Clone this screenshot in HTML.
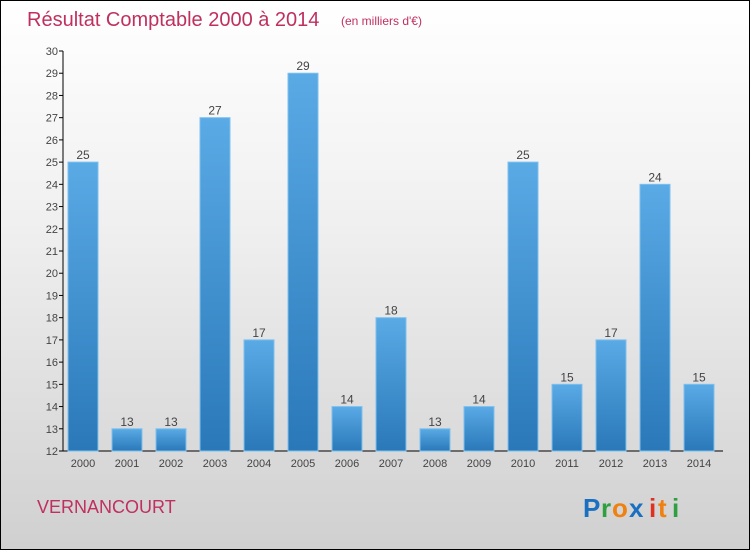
<!DOCTYPE html>
<html><head><meta charset="utf-8"><style>
body{margin:0;}
#c{width:748px;height:548px;border:1px solid #000;position:relative;background:linear-gradient(#ffffff,#f0f0f0 40%,#d0d0d0);font-family:"Liberation Sans",sans-serif;overflow:hidden}
</style></head><body>
<div id="c">
<svg width="748" height="548" id="s">
<defs><linearGradient id="g" x1="0" y1="0" x2="0" y2="1"><stop offset="0" stop-color="#5aaae6"/><stop offset="1" stop-color="#2a78b8"/></linearGradient></defs>
<text x="26" y="25" font-size="20" fill="#c0305f">Résultat Comptable 2000 à 2014</text>
<text x="340" y="24" font-size="12" fill="#c0305f">(en milliers d'€)</text>
<text x="36" y="512" font-size="18" fill="#c0305f">VERNANCOURT</text>
<g font-size="26" font-weight="bold">
<text x="582" y="516" fill="#1a70c0">P</text><text x="600" y="516" fill="#2ea040">r</text><text x="611" y="516" fill="#f08010">o</text><text x="628" y="516" fill="#1a70c0">x</text><text x="648" y="516" fill="#e03020">i</text><text x="657" y="516" fill="#f08010">t</text><text x="671" y="516" fill="#2ea040">i</text>
</g>
<g id="plot"></g>
</svg>
</div>
<script>
const categories=["2000","2001","2002","2003","2004","2005","2006","2007","2008","2009","2010","2011","2012","2013","2014"];
const values=[25,13,13,27,17,29,14,18,13,14,25,15,17,24,15];
const yTicks=[12,13,14,15,16,17,18,19,20,21,22,23,24,25,26,27,28,29,30];
const NS="http://www.w3.org/2000/svg";
const g=document.getElementById('plot');
const y=v=>450-(v-12)*400/18;
const x=i=>82+i*44;
function mk(t,a){const e=document.createElementNS(NS,t);for(const k in a)e.setAttribute(k,a[k]);g.appendChild(e);return e;}
let ax=mk('line',{x1:62,y1:50,x2:62,y2:450,stroke:'#000'});


let xa=mk('line',{x1:62,y1:450,x2:722,y2:450,stroke:'#000'});


yTicks.forEach(v=>{
 const l=mk('line',{x1:58,y1:y(v),x2:62,y2:y(v),stroke:'#000'});
 
 
 const t=mk('text',{x:57,y:y(v)+4,'font-size':11,'text-anchor':'end',fill:'#444'});
 t.textContent=v;
 
 
});
values.forEach((v,i)=>{
 const r=mk('rect',{x:x(i)-15,y:y(v),width:30,height:450-y(v),fill:'url(#g)',stroke:'#7cc0f0','stroke-width':1});
 
 
 const t=mk('text',{x:x(i),y:y(v)-3,'font-size':12,'text-anchor':'middle',fill:'#444'});
 t.textContent=v;
 
 
 const c=mk('text',{x:x(i),y:466,'font-size':11,'text-anchor':'middle',fill:'#444'});
 c.textContent=categories[i];
 
 
});
</script>
</body></html>
